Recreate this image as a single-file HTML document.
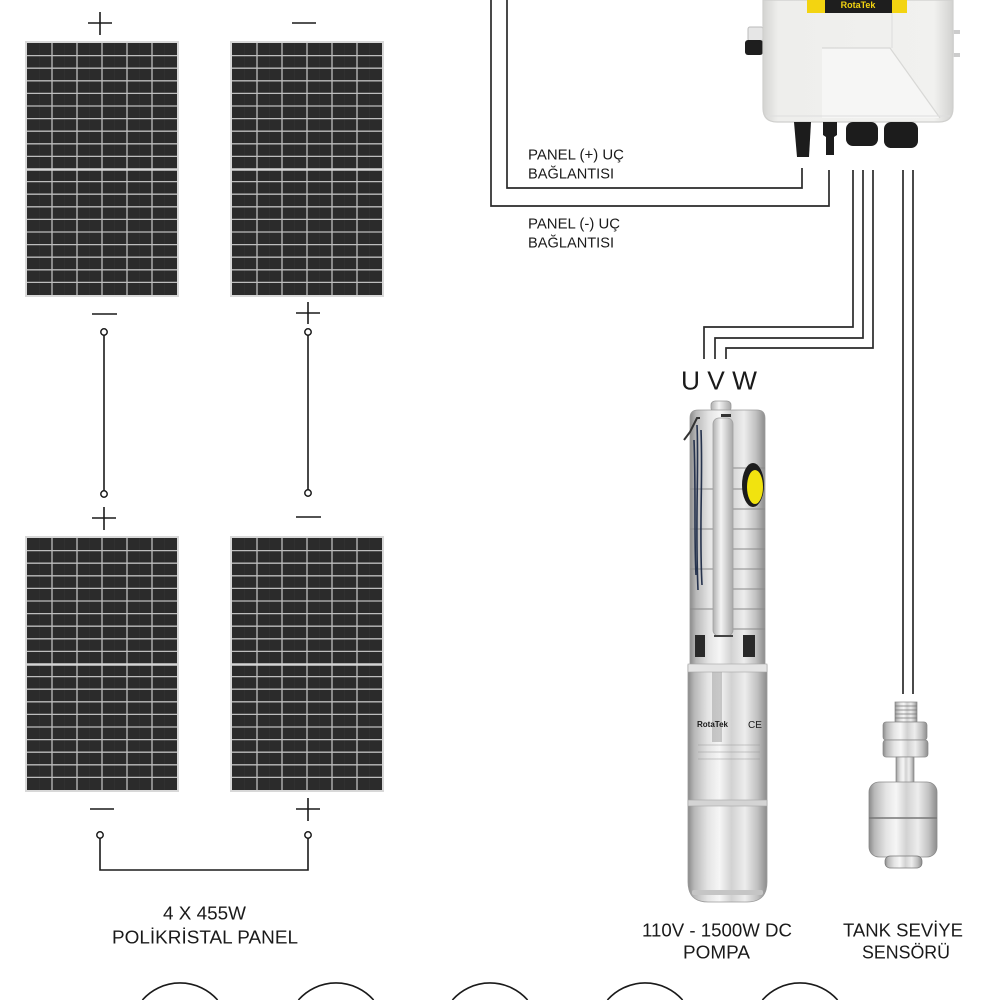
<!DOCTYPE html>
<html><head><meta charset="utf-8">
<style>
html,body{margin:0;padding:0;background:#fff;width:1000px;height:1000px;overflow:hidden;}
svg{display:block;}
text{font-family:"Liberation Sans",Arial,sans-serif;fill:#1a1a1a;}
</style></head>
<body>
<svg width="1000" height="1000" viewBox="0 0 1000 1000" xmlns="http://www.w3.org/2000/svg">
<defs>
  <linearGradient id="steel" x1="0" x2="1" y1="0" y2="0">
    <stop offset="0" stop-color="#8a8a8a"/>
    <stop offset="0.08" stop-color="#b8b8b8"/>
    <stop offset="0.25" stop-color="#e4e4e4"/>
    <stop offset="0.4" stop-color="#f6f6f6"/>
    <stop offset="0.55" stop-color="#d2d2d2"/>
    <stop offset="0.72" stop-color="#ededed"/>
    <stop offset="0.88" stop-color="#c0c0c0"/>
    <stop offset="1" stop-color="#8c8c8c"/>
  </linearGradient>
  <linearGradient id="bar" x1="0" x2="1" y1="0" y2="0">
    <stop offset="0" stop-color="#b0b0b0"/>
    <stop offset="0.4" stop-color="#f4f4f4"/>
    <stop offset="1" stop-color="#a8a8a8"/>
  </linearGradient>
  <linearGradient id="box" x1="0" x2="1" y1="0" y2="0">
    <stop offset="0" stop-color="#d4d4d2"/>
    <stop offset="0.08" stop-color="#eeeeec"/>
    <stop offset="0.9" stop-color="#f1f1ef"/>
    <stop offset="1" stop-color="#d2d2d0"/>
  </linearGradient>
  <g id="pn">
    <rect x="0" y="0" width="154" height="256" fill="#d8d8d8"/>
    <rect x="2" y="2" width="150" height="252" fill="#2b2b2b"/>
    <g stroke="#333" stroke-width="0.7">
      <line x1="14.5" y1="2" x2="14.5" y2="254"/><line x1="39.5" y1="2" x2="39.5" y2="254"/>
      <line x1="64.5" y1="2" x2="64.5" y2="254"/><line x1="89.5" y1="2" x2="89.5" y2="254"/>
      <line x1="114.5" y1="2" x2="114.5" y2="254"/><line x1="139.5" y1="2" x2="139.5" y2="254"/>
    </g>
    <g stroke="#bdbdbd" stroke-width="1.3">
      <line x1="27" y1="2" x2="27" y2="254"/><line x1="52" y1="2" x2="52" y2="254"/>
      <line x1="77" y1="2" x2="77" y2="254"/><line x1="102" y1="2" x2="102" y2="254"/>
      <line x1="127" y1="2" x2="127" y2="254"/>
      <line x1="2" y1="14.6" x2="152" y2="14.6"/><line x1="2" y1="27.2" x2="152" y2="27.2"/>
      <line x1="2" y1="39.8" x2="152" y2="39.8"/><line x1="2" y1="52.4" x2="152" y2="52.4"/>
      <line x1="2" y1="65" x2="152" y2="65"/><line x1="2" y1="77.6" x2="152" y2="77.6"/>
      <line x1="2" y1="90.2" x2="152" y2="90.2"/><line x1="2" y1="102.8" x2="152" y2="102.8"/>
      <line x1="2" y1="115.4" x2="152" y2="115.4"/>
      <line x1="2" y1="140.6" x2="152" y2="140.6"/><line x1="2" y1="153.2" x2="152" y2="153.2"/>
      <line x1="2" y1="165.8" x2="152" y2="165.8"/><line x1="2" y1="178.4" x2="152" y2="178.4"/>
      <line x1="2" y1="191" x2="152" y2="191"/><line x1="2" y1="203.6" x2="152" y2="203.6"/>
      <line x1="2" y1="216.2" x2="152" y2="216.2"/><line x1="2" y1="228.8" x2="152" y2="228.8"/>
      <line x1="2" y1="241.4" x2="152" y2="241.4"/>
    </g>
    <line x1="2" y1="128.5" x2="152" y2="128.5" stroke="#d4d4d4" stroke-width="2.4"/>
  </g>
</defs>

<!-- Solar panels -->
<use href="#pn" x="25" y="41"/>
<use href="#pn" x="230" y="41"/>
<use href="#pn" x="25" y="536"/>
<use href="#pn" x="230" y="536"/>

<!-- plus / minus signs -->
<g stroke="#1a1a1a" stroke-width="1.6" fill="none">
  <line x1="88" y1="23" x2="112" y2="23"/><line x1="100" y1="12" x2="100" y2="35"/>
  <line x1="292" y1="23" x2="316" y2="23"/>
  <line x1="92" y1="314" x2="117" y2="314"/>
  <line x1="92" y1="518" x2="116" y2="518"/><line x1="104" y1="507" x2="104" y2="530"/>
  <line x1="296" y1="313" x2="320" y2="313"/><line x1="308" y1="302" x2="308" y2="324"/>
  <line x1="296" y1="517" x2="321" y2="517"/>
  <line x1="90" y1="809" x2="114" y2="809"/>
  <line x1="296" y1="809" x2="320" y2="809"/><line x1="308" y1="798" x2="308" y2="821"/>
</g>

<!-- panel interconnects -->
<g stroke="#1a1a1a" stroke-width="1.6" fill="none">
  <line x1="104" y1="335" x2="104" y2="491"/>
  <line x1="308" y1="335" x2="308" y2="490"/>
  <path d="M100,838 V870 H308 V838"/>
</g>
<g stroke="#1a1a1a" stroke-width="1.5" fill="#fff">
  <circle cx="104" cy="332" r="3.2"/><circle cx="104" cy="494" r="3.2"/>
  <circle cx="308" cy="332" r="3.2"/><circle cx="308" cy="493" r="3.2"/>
  <circle cx="100" cy="835" r="3.2"/><circle cx="308" cy="835" r="3.2"/>
</g>

<!-- Wires -->
<g stroke="#2a2a2a" stroke-width="1.7" fill="none">
  <path d="M491,0 V206 H829 V170"/>
  <path d="M507,0 V188 H802 V168"/>
  <path d="M853,170 V327 H704 V359"/>
  <path d="M863,170 V338 H715 V359"/>
  <path d="M873,170 V348 H726 V359"/>
  <line x1="903" y1="170" x2="903" y2="694"/>
  <line x1="913" y1="170" x2="913" y2="694"/>
</g>

<!-- Controller -->
<g>
  <rect x="748" y="27" width="15" height="14" rx="2" fill="#e6e6e6" stroke="#bbb" stroke-width="1"/>
  <rect x="745" y="40" width="18" height="15" rx="3" fill="#1e1e1e"/>
  <rect x="950" y="30" width="10" height="4" fill="#ccc"/>
  <rect x="950" y="53" width="10" height="4" fill="#ccc"/>
  <rect x="950" y="30" width="4" height="27" fill="#ddd"/>
  <path d="M763,0 H953 V108 Q953,122 939,122 H777 Q763,122 763,108 Z" fill="url(#box)" stroke="#cfcfcd" stroke-width="1.2"/>
  <path d="M822,48 H890 L940,118 H822 Z" fill="#f6f6f5"/>
  <path d="M822,48 H890 L940,118" fill="none" stroke="#d8d8d6" stroke-width="1.2"/>
  <line x1="892" y1="0" x2="892" y2="48" stroke="#dcdcdc" stroke-width="1"/>
  <line x1="766" y1="116" x2="950" y2="116" stroke="#dedede" stroke-width="1"/>
  <rect x="807" y="0" width="100" height="13" fill="#f3d411"/>
  <rect x="825" y="0" width="67" height="13" fill="#1e1e1e"/>
  <text x="858" y="8" font-size="9" font-weight="bold" text-anchor="middle" style="fill:#f3d411">RotaTek</text>
  <!-- connectors -->
  <path d="M794,122 H811 L809,157 H797 Z" fill="#1c1c1c"/>
  <path d="M823,122 H837 V135 L834,137 V155 H826 V137 L823,135 Z" fill="#1c1c1c"/>
  <rect x="846" y="122" width="32" height="24" rx="7" fill="#1c1c1c"/>
  <rect x="884" y="122" width="34" height="26" rx="7" fill="#1c1c1c"/>
</g>

<!-- labels near controller -->
<text x="528" y="159.5" font-size="15" textLength="96" lengthAdjust="spacingAndGlyphs">PANEL (+) UÇ</text>
<text x="528" y="178.5" font-size="15" textLength="86" lengthAdjust="spacingAndGlyphs">BAĞLANTISI</text>
<text x="528" y="228.5" font-size="15" textLength="92" lengthAdjust="spacingAndGlyphs">PANEL (-) UÇ</text>
<text x="528" y="247.5" font-size="15" textLength="86" lengthAdjust="spacingAndGlyphs">BAĞLANTISI</text>

<text x="681" y="389.5" font-size="26" textLength="76" lengthAdjust="spacingAndGlyphs">U V W</text>

<!-- Pump -->
<g>
  <rect x="711" y="401" width="20" height="11" rx="4" fill="url(#bar)" stroke="#999" stroke-width="0.8"/>
  <path d="M690,418 Q690,410 698,410 H757 Q765,410 765,418 V667 H690 Z" fill="url(#steel)" stroke="#9a9a9a" stroke-width="0.8"/>
  <g stroke="#8a8a8a" stroke-width="1">
    <line x1="733" y1="468" x2="765" y2="468"/><line x1="733" y1="489" x2="765" y2="489"/>
    <line x1="733" y1="509" x2="765" y2="509"/><line x1="733" y1="529" x2="765" y2="529"/>
    <line x1="733" y1="549" x2="765" y2="549"/><line x1="733" y1="569" x2="765" y2="569"/>
    <line x1="733" y1="589" x2="765" y2="589"/><line x1="733" y1="609" x2="765" y2="609"/>
    <line x1="733" y1="629" x2="765" y2="629"/>
    <line x1="690" y1="489" x2="713" y2="489"/><line x1="690" y1="529" x2="713" y2="529"/>
    <line x1="690" y1="569" x2="713" y2="569"/><line x1="690" y1="609" x2="713" y2="609"/>
  </g>
  <rect x="713" y="418" width="20" height="218" rx="6" fill="url(#bar)" stroke="#a0a0a0" stroke-width="0.8"/>
  <line x1="714" y1="636" x2="733" y2="636" stroke="#444" stroke-width="2"/>
  <rect x="721" y="414" width="10" height="3" fill="#333"/>
  <g stroke="#25324d" stroke-width="1.6" fill="none">
    <path d="M697,425 C699,470 695,520 698,590"/>
    <path d="M701,430 C703,480 699,530 702,585"/>
    <path d="M694,440 C696,490 694,540 696,575"/>
  </g>
  <path d="M684,440 L690,432 L697,418 L700,418" stroke="#333" stroke-width="2" fill="none"/>
  <ellipse cx="753" cy="485" rx="11" ry="22" fill="#1c1c1c"/>
  <ellipse cx="755" cy="487" rx="8" ry="17" fill="#f1e30f"/>
  <path d="M688,665 H767 V882 Q767,902 747,902 H708 Q688,902 688,882 Z" fill="url(#steel)" stroke="#9a9a9a" stroke-width="0.8"/>
  <rect x="688" y="664" width="79" height="8" fill="#e4e4e4" stroke="#a5a5a5" stroke-width="0.6"/>
  <path d="M695,635 H705 V657 H695 Z" fill="#2a2a2a"/>
  <path d="M743,635 H755 V657 H743 Z" fill="#2a2a2a"/>
  <rect x="712" y="672" width="10" height="70" fill="#9a9a9a" opacity="0.5"/>
  <text x="697" y="727" font-size="8" font-weight="bold">RotaTek</text>
  <text x="748" y="728" font-size="10">CE</text>
  <g stroke="#999" stroke-width="0.6">
    <line x1="698" y1="745" x2="760" y2="745"/><line x1="698" y1="752" x2="760" y2="752"/>
    <line x1="698" y1="759" x2="760" y2="759"/>
  </g>
  <rect x="688" y="800" width="79" height="6" fill="#d4d4d4" stroke="#a5a5a5" stroke-width="0.6"/>
  <rect x="692" y="890" width="71" height="5" rx="2" fill="#c5c5c5"/>
</g>

<!-- Sensor -->
<g>
  <rect x="895" y="702" width="22" height="20" fill="url(#steel)" stroke="#888" stroke-width="0.7"/>
  <g stroke="#777" stroke-width="0.8">
    <line x1="895" y1="706" x2="917" y2="706"/><line x1="895" y1="710" x2="917" y2="710"/>
    <line x1="895" y1="714" x2="917" y2="714"/><line x1="895" y1="718" x2="917" y2="718"/>
  </g>
  <rect x="883" y="722" width="44" height="18" rx="3" fill="url(#steel)" stroke="#888" stroke-width="0.7"/>
  <rect x="883" y="740" width="45" height="17" rx="3" fill="url(#steel)" stroke="#888" stroke-width="0.7"/>
  <rect x="896" y="757" width="18" height="26" fill="url(#steel)" stroke="#888" stroke-width="0.7"/>
  <rect x="869" y="782" width="68" height="75" rx="10" fill="url(#steel)" stroke="#8a8a8a" stroke-width="0.8"/>
  <line x1="869" y1="818" x2="937" y2="818" stroke="#777" stroke-width="1.5"/>
  <rect x="885" y="856" width="37" height="12" rx="5" fill="url(#steel)" stroke="#777" stroke-width="0.7"/>
</g>

<!-- Bottom labels -->
<text x="163" y="919.5" font-size="18.5" textLength="83" lengthAdjust="spacingAndGlyphs">4 X 455W</text>
<text x="112" y="943.5" font-size="18.5" textLength="186" lengthAdjust="spacingAndGlyphs">POLİKRİSTAL PANEL</text>
<text x="642" y="936.5" font-size="18.5" textLength="150" lengthAdjust="spacingAndGlyphs">110V - 1500W DC</text>
<text x="683" y="958.5" font-size="18.5" textLength="67" lengthAdjust="spacingAndGlyphs">POMPA</text>
<text x="843" y="936.5" font-size="18.5" textLength="120" lengthAdjust="spacingAndGlyphs">TANK SEVİYE</text>
<text x="862" y="958.5" font-size="18.5" textLength="88" lengthAdjust="spacingAndGlyphs">SENSÖRÜ</text>

<!-- bottom circle arcs (clipped at frame edge) -->
<g stroke="#1a1a1a" stroke-width="1.6" fill="none">
  <path d="M142.4,1000 A50,50 0 0 1 217.6,1000"/>
  <path d="M298.4,1000 A50,50 0 0 1 373.6,1000"/>
  <path d="M452.4,1000 A50,50 0 0 1 527.6,1000"/>
  <path d="M607.4,1000 A50,50 0 0 1 682.6,1000"/>
  <path d="M762.4,1000 A50,50 0 0 1 837.6,1000"/>
</g>
</svg>
</body></html>
